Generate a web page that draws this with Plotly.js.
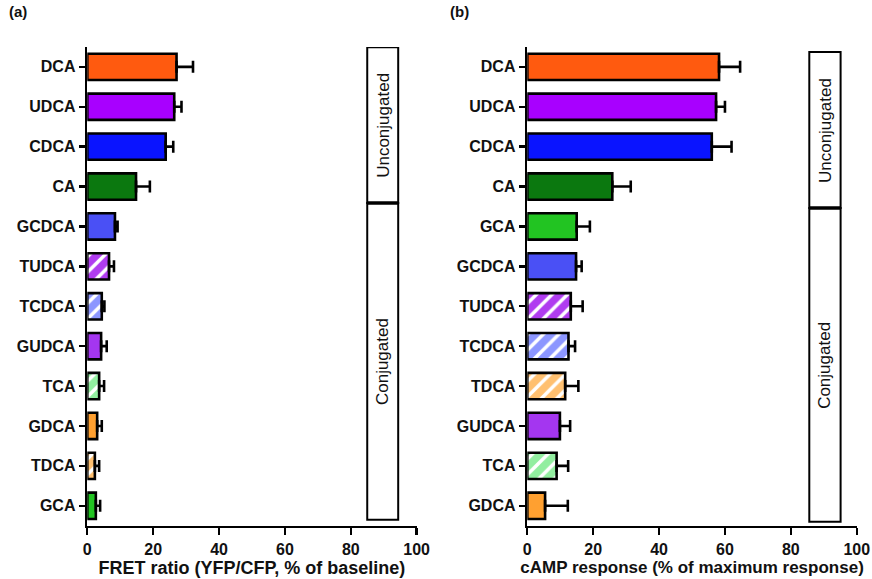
<!DOCTYPE html>
<html>
<head>
<meta charset="utf-8">
<script src="https://cdn.plot.ly/plotly-3.0.1.min.js"></script>
<style>
  html, body { margin: 0; padding: 0; background: #fff; }
  #chart { width: 872px; height: 579px; }
</style>
</head>
<body>
<div id="chart"></div>
<script>
// ---- Data ----
const fretLabels = ["DCA", "UDCA", "CDCA", "CA", "GCDCA", "TUDCA", "TCDCA", "GUDCA", "TCA", "GDCA", "TDCA", "GCA"];
const fretValues = [27.1, 26.4, 23.8, 14.8, 8.4, 6.6, 4.4, 4.2, 3.6, 3.0, 2.3, 2.6];
const fretErrors = [5.0, 2.2, 2.3, 4.2, 0.8, 1.5, 0.8, 1.7, 1.5, 1.4, 1.3, 1.3];

const campLabels = ["DCA", "UDCA", "CDCA", "CA", "GCA", "GCDCA", "TUDCA", "TCDCA", "TDCA", "GUDCA", "TCA", "GDCA"];
const campValues = [58.2, 57.3, 56.0, 25.8, 15.0, 14.8, 13.2, 12.5, 11.5, 9.9, 8.9, 5.4];
const campErrors = [6.4, 2.7, 6.0, 5.6, 4.0, 1.7, 3.6, 2.0, 4.0, 3.1, 3.5, 6.9];

const xTicks = [0, 20, 40, 60, 80, 100];
const groupNames = ["Unconjugated", "Conjugated"];

// ---- Styles ----
const colorMap = {
  DCA: "#ff5a0f", UDCA: "#a800ff", CDCA: "#0a14ff", CA: "#0b780f",
  GCDCA: "#4a50f5", TUDCA: "#b03cf0", TCDCA: "#8c96ff", GUDCA: "#a436f0",
  TCA: "#92eea0", GDCA: "#ffa030", TDCA: "#ffc070", GCA: "#22c422"
};
const striped = new Set(["TUDCA", "TCDCA", "TCA", "TDCA"]);

const FONT = "Liberation Sans, Arial, sans-serif";
const tickFont = { family: FONT, size: 16, color: "#111" };

function barTrace(labels, values, errors, xa, ya) {
  return {
    type: "bar",
    orientation: "h",
    y: labels,
    x: values,
    xaxis: xa,
    yaxis: ya,
    width: 0.66,
    marker: {
      color: labels.map(l => colorMap[l]),
      line: { color: "#000", width: 2.6 },
      pattern: {
        // coloured stripes with transparent gaps over the white background
        shape: labels.map(l => striped.has(l) ? "/" : ""),
        size: 11,
        solidity: 0.68,
        fillmode: "replace"
      }
    },
    error_x: {
      type: "data",
      symmetric: false,
      array: errors,
      arrayminus: labels.map(() => 0),
      color: "#000",
      thickness: 2.6,
      width: 6
    },
    hoverinfo: "x+y",
    showlegend: false
  };
}

const data = [
  barTrace(fretLabels, fretValues, fretErrors, "x", "y"),
  barTrace(campLabels, campValues, campErrors, "x2", "y2")
];

function xAxis(domain, anchor, title, tsize) {
  return {
    domain: domain,
    anchor: anchor,
    range: [0, 100],
    tickvals: xTicks,
    ticktext: xTicks.map(v => "<b>" + v + "</b>"),
    ticks: "outside",
    ticklen: 7,
    tickwidth: 2.4,
    tickcolor: "#000",
    showline: true,
    linecolor: "#000",
    linewidth: 2.6,
    showgrid: false,
    zeroline: false,
    tickfont: tickFont,
    title: { text: "<b>" + title + "</b>", font: { family: FONT, size: tsize, color: "#111" }, standoff: 4 },
    fixedrange: true
  };
}
function yAxis(labels, anchor) {
  return {
    domain: [0.092, 0.919],
    anchor: anchor,
    type: "category",
    categoryorder: "array",
    categoryarray: labels,
    range: [11.5, -0.5],
    tickvals: labels,
    ticktext: labels.map(l => "<b>" + l + "</b>"),
    ticks: "outside",
    ticklen: 6,
    tickwidth: 2.4,
    tickcolor: "#000",
    showline: true,
    linecolor: "#000",
    linewidth: 2.6,
    showgrid: false,
    zeroline: false,
    tickfont: tickFont,
    fixedrange: true
  };
}

function groupShapes(xa, ya, x0, x1, yTop, yMid, yBot) {
  return [
    { type: "rect", xref: xa, yref: ya, x0: x0, x1: x1, y0: yTop, y1: yMid,
      line: { color: "#000", width: 2 }, fillcolor: "#fff", layer: "above" },
    { type: "rect", xref: xa, yref: ya, x0: x0, x1: x1, y0: yMid, y1: yBot,
      line: { color: "#000", width: 2 }, fillcolor: "#fff", layer: "above" },
    { type: "line", xref: xa, yref: ya, x0: x0, x1: x1, y0: yMid, y1: yMid,
      line: { color: "#000", width: 3.5 }, layer: "above" }
  ];
}
function groupLabels(xa, ya, x0, x1, yTop, yMid, yBot) {
  const xc = (x0 + x1) / 2;
  const f = { family: FONT, size: 17, color: "#111" };
  return [
    { xref: xa, yref: ya, x: xc, y: (yTop + yMid) / 2, text: groupNames[0], textangle: -90,
      showarrow: false, font: f, xanchor: "center", yanchor: "middle" },
    { xref: xa, yref: ya, x: xc, y: (yMid + yBot) / 2, text: groupNames[1], textangle: -90,
      showarrow: false, font: f, xanchor: "center", yanchor: "middle" }
  ];
}

const layout = {
  width: 872,
  height: 579,
  margin: { l: 0, r: 0, t: 0, b: 0 },
  paper_bgcolor: "#fff",
  plot_bgcolor: "#fff",
  bargap: 0.34,
  xaxis: xAxis([0.1001, 0.4778], "y", "FRET ratio (YFP/CFP, % of baseline)", 18),
  yaxis: yAxis(fretLabels, "x"),
  xaxis2: xAxis([0.6047, 0.9825], "y2", "cAMP response (% of maximum response)", 17),
  yaxis2: yAxis(campLabels, "x2"),
  shapes: [].concat(
    groupShapes("x", "y", 85.0, 94.4, -0.49, 3.41, 11.35),
    groupShapes("x2", "y2", 85.6, 95.1, -0.37, 3.54, 11.4)
  ),
  annotations: [].concat(
    groupLabels("x", "y", 85.0, 94.4, -0.49, 3.41, 11.35),
    groupLabels("x2", "y2", 85.6, 95.1, -0.37, 3.54, 11.4),
    [
      { xref: "paper", yref: "paper", x: 0.021, y: 0.98, text: "<b>(a)</b>", showarrow: false,
        font: { family: FONT, size: 15, color: "#111" }, xanchor: "center", yanchor: "middle" },
      { xref: "paper", yref: "paper", x: 0.527, y: 0.98, text: "<b>(b)</b>", showarrow: false,
        font: { family: FONT, size: 15, color: "#111" }, xanchor: "center", yanchor: "middle" }
    ]
  )
};

Plotly.newPlot("chart", data, layout, { displayModeBar: false, staticPlot: true });
</script>
</body>
</html>
